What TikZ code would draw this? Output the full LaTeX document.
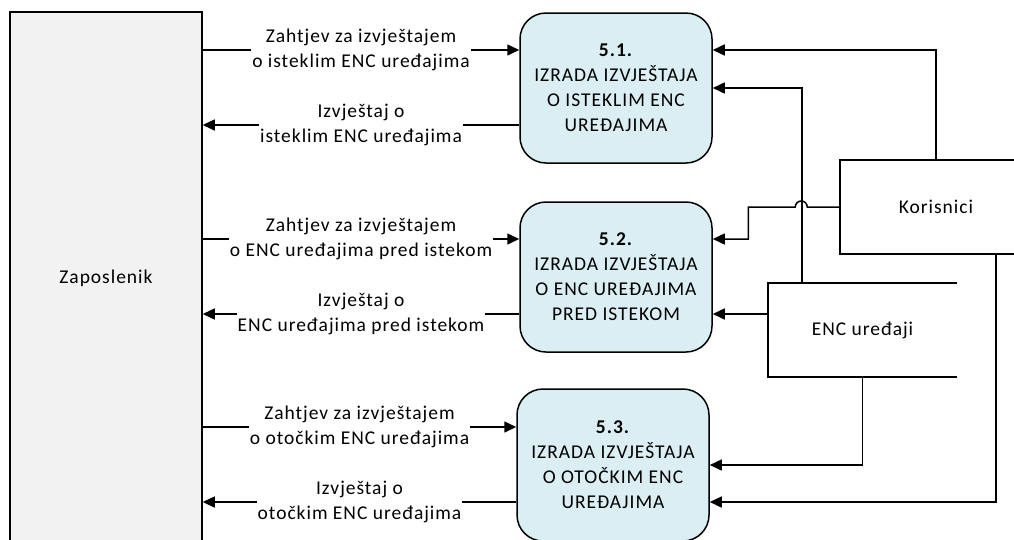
\documentclass[tikz,border=0pt]{standalone}
\usepackage{fontspec}
\setmainfont{Carlito}[LetterSpace=5]
\usetikzlibrary{arrows.meta}
\definecolor{procfill}{HTML}{DAEEF3}
\definecolor{entfill}{HTML}{F2F2F2}
\begin{document}
\begin{tikzpicture}[x=1pt, y=-1pt, font=\fontsize{19.5}{25}\selectfont,
  flow/.style={line width=1.5pt, -{Triangle[length=12pt, width=11pt]}},
  procnode/.style={rectangle, rounded corners=26pt, draw, line width=1.5pt, fill=procfill,
    minimum width=192pt, minimum height=150pt, align=center},
  entnode/.style={rectangle, draw, line width=1.5pt, minimum width=192pt},
  lbl/.style={fill=white, inner sep=1pt, align=center}]
  \clip (0,0) rectangle (1014,539);

  \node[entnode, fill=entfill, minimum height=532pt] (zap) at (106, 278) {Zaposlenik};
  \node[procnode] (p51) at (616, 88) {\textbf{5.1.}\\IZRADA IZVJEŠTAJA\\O ISTEKLIM ENC\\UREĐAJIMA};
  \node[procnode] (p52) at (616, 277) {\textbf{5.2.}\\IZRADA IZVJEŠTAJA\\O ENC UREĐAJIMA\\PRED ISTEKOM};
  \node[procnode, minimum height=152pt] (p53) at (613, 465) {\textbf{5.3.}\\IZRADA IZVJEŠTAJA\\O OTOČKIM ENC\\UREĐAJIMA};
  \node[entnode, fill=white, minimum height=94pt] (kor) at (936, 207) {Korisnici};
  \node[minimum width=189pt, minimum height=94pt] (enc) at (862.5, 330) {ENC uređaji};
  \draw[line width=1.5pt] (enc.north east) -- (enc.north west) -- (enc.south west) -- (enc.south east);

  % ulazi i izlazi procesa
  \foreach \p in {p51, p52, p53} {
    \coordinate (\p-inl) at ([yshift=38pt]\p.west);
    \coordinate (\p-outl) at ([yshift=-37pt]\p.west);
    \coordinate (\p-inr) at ([yshift=38pt]\p.east);
    \coordinate (\p-outr) at ([yshift=-37pt]\p.east);
  }

  \draw[flow] (zap.east |- p51-inl) -- (p51-inl) node[lbl, midway] {Zahtjev za izvještajem\\o isteklim ENC uređajima};
  \draw[flow] (p51-outl) -- (zap.east |- p51-outl) node[lbl, midway] {Izvještaj o\\isteklim ENC uređajima};
  \draw[flow] (zap.east |- p52-inl) -- (p52-inl) node[lbl, midway] {Zahtjev za izvještajem\\o ENC uređajima pred istekom};
  \draw[flow] (p52-outl) -- (zap.east |- p52-outl) node[lbl, midway] {Izvještaj o\\ENC uređajima pred istekom};
  \draw[flow] (zap.east |- p53-inl) -- (p53-inl) node[lbl, midway] {Zahtjev za izvještajem\\o otočkim ENC uređajima};
  \draw[flow] (p53-outl) -- (zap.east |- p53-outl) node[lbl, midway] {Izvještaj o\\otočkim ENC uređajima};

  \draw[flow] (kor.north) |- (p51-inr);
  \draw[flow] ([xshift=34pt]enc.north west) |- (p51.east);
  \draw[flow] (kor.west) -- ++(-32,0) arc[start angle=0, end angle=180, radius=6pt] -- ++(-47,0) |- (p52-inr);
  \draw[flow] (enc.west |- p52-outr) -- (p52-outr);
  \draw[flow] (enc.south) |- (p53.east);
  \draw[flow] ([xshift=60pt]kor.south) |- (p53-outr);
\end{tikzpicture}
\end{document}
